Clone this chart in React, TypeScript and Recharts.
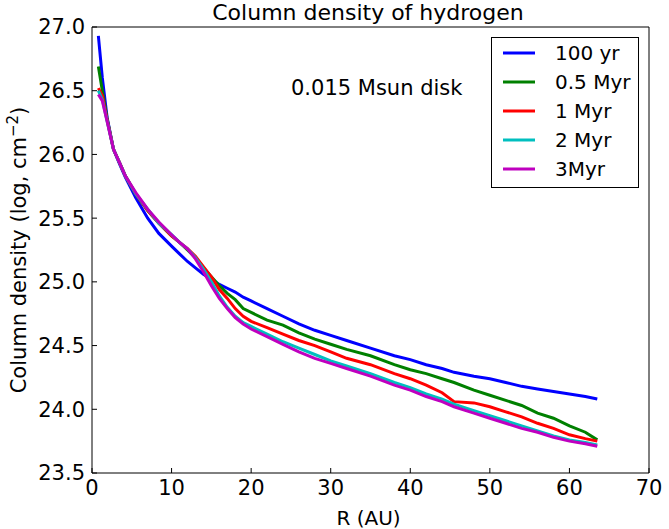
import React from 'react';
import { LineChart, Line, XAxis, YAxis, Legend } from 'recharts';

const radii = [0.8, 1.3, 1.9, 2.7, 3.5, 4.2, 5.5, 7, 8.4, 10, 11, 12, 13, 14, 15, 16, 17, 18, 19, 20, 22, 24, 26, 28, 30, 32, 35, 38, 40, 42, 44, 45.5, 48, 50, 52, 54, 56, 58, 60, 62, 63.5];

const yr100 = [26.93, 26.60, 26.29, 26.04, 25.92, 25.82, 25.66, 25.50, 25.38, 25.28, 25.22, 25.16, 25.11, 25.06, 25.02, 24.98, 24.95, 24.92, 24.88, 24.85, 24.79, 24.73, 24.67, 24.62, 24.58, 24.54, 24.48, 24.42, 24.39, 24.35, 24.32, 24.29, 24.26, 24.24, 24.21, 24.18, 24.16, 24.14, 24.12, 24.10, 24.08];
const myr05 = [26.69, 26.50, 26.28, 26.04, 25.93, 25.83, 25.69, 25.56, 25.46, 25.36, 25.31, 25.25, 25.19, 25.11, 25.04, 24.97, 24.91, 24.86, 24.79, 24.76, 24.70, 24.66, 24.60, 24.55, 24.51, 24.47, 24.42, 24.35, 24.31, 24.28, 24.24, 24.21, 24.15, 24.11, 24.07, 24.03, 23.97, 23.93, 23.87, 23.82, 23.76];
const myr1 = [26.52, 26.46, 26.27, 26.04, 25.93, 25.83, 25.69, 25.56, 25.46, 25.36, 25.31, 25.26, 25.20, 25.12, 25.04, 24.94, 24.87, 24.79, 24.73, 24.69, 24.64, 24.59, 24.54, 24.50, 24.45, 24.40, 24.35, 24.28, 24.24, 24.19, 24.13, 24.06, 24.05, 24.02, 23.98, 23.94, 23.89, 23.85, 23.80, 23.77, 23.75];
const myr2 = [26.50, 26.43, 26.26, 26.04, 25.93, 25.83, 25.69, 25.57, 25.46, 25.37, 25.31, 25.26, 25.19, 25.10, 25.00, 24.89, 24.80, 24.73, 24.68, 24.65, 24.59, 24.53, 24.48, 24.43, 24.38, 24.34, 24.28, 24.21, 24.17, 24.12, 24.08, 24.04, 23.99, 23.95, 23.91, 23.87, 23.83, 23.79, 23.76, 23.74, 23.72];
const myr3 = [26.47, 26.42, 26.26, 26.04, 25.93, 25.83, 25.70, 25.57, 25.47, 25.37, 25.31, 25.26, 25.18, 25.08, 24.97, 24.87, 24.79, 24.72, 24.67, 24.63, 24.57, 24.51, 24.45, 24.40, 24.36, 24.32, 24.26, 24.19, 24.15, 24.10, 24.06, 24.02, 23.97, 23.93, 23.89, 23.85, 23.82, 23.78, 23.75, 23.73, 23.71];

const seriesNames = ['100 yr', '0.5 Myr', '1 Myr', '2 Myr', '3Myr'];
const seriesColors = ['#0000ff', '#008000', '#ff0000', '#00bfbf', '#bf00bf'];
const seriesValues = [yr100, myr05, myr1, myr2, myr3];

const xTicks = [0, 10, 20, 30, 40, 50, 60, 70];
const yTicks = [23.5, 24.0, 24.5, 25.0, 25.5, 26.0, 26.5, 27.0];

const data = radii.map((r, i) => {
  const row: Record<string, number> = { r };
  seriesValues.forEach((vals, k) => {
    row['s' + k] = vals[i];
  });
  return row;
});

const FONT = 'DejaVu Sans, sans-serif';

const tickStyle = { fill: '#000', fontSize: 21, fontFamily: FONT };

const LegendBox = (props: any) => {
  const payload = [...(props.payload || [])].sort(
    (a: any, b: any) => seriesNames.indexOf(a.value) - seriesNames.indexOf(b.value)
  );
  return (
    <svg width={148} height={151} style={{ display: 'block' }}>
      <rect x={0.5} y={0.5} width={147} height={150} fill="#fff" stroke="#000" strokeWidth={1} />
      {payload.map((p: any, i: number) => (
        <g key={i}>
          <line x1={12} x2={44} y1={16 + 29 * i} y2={16 + 29 * i} stroke={p.color} strokeWidth={3} />
          <text x={64} y={16 + 29 * i + 7} fontSize={20} fontFamily={FONT} fill="#000">
            {p.value}
          </text>
        </g>
      ))}
    </svg>
  );
};

const XLabel = (props: any) => {
  const vb = props.viewBox || { x: 0, y: 0, width: 0, height: 0 };
  return (
    <text x={vb.x + vb.width / 2 - 2} y={vb.y + 51.5} textAnchor="middle" fontSize={20} fontFamily={FONT} fill="#000">
      R (AU)
    </text>
  );
};

const YLabel = (props: any) => {
  const vb = props.viewBox || { x: 0, y: 0, width: 0, height: 0 };
  const x = vb.x + 26;
  const y = vb.y + vb.height / 2;
  return (
    <text x={x} y={y} textAnchor="middle" fontSize={21} fontFamily={FONT} fill="#000" transform={`rotate(-90 ${x} ${y})`}>
      <tspan>Column density (log, cm</tspan>
      <tspan dy={-8} fontSize={15}>−2</tspan>
      <tspan dy={8}>)</tspan>
    </text>
  );
};

export default function App() {
  return (
    <div style={{ position: 'absolute', left: 0, top: 0, width: 669, height: 529, background: '#fff' }}>
      <LineChart width={669} height={529} data={data} margin={{ top: 26, right: 19, bottom: 0, left: 0 }}>
        <XAxis
          dataKey="r"
          type="number"
          domain={[0, 70]}
          ticks={xTicks}
          interval={0}
          allowDataOverflow
          height={56}
          tickSize={-5}
          tickMargin={12}
          axisLine={{ stroke: '#000' }}
          tickLine={{ stroke: '#000' }}
          tick={tickStyle}
          label={<XLabel />}
        />
        <XAxis
          xAxisId="top"
          orientation="top"
          type="number"
          dataKey="r"
          domain={[0, 70]}
          ticks={xTicks}
          interval={0}
          allowDataOverflow
          height={1}
          tickSize={-5}
          axisLine={{ stroke: '#000' }}
          tickLine={{ stroke: '#000' }}
          tick={false}
        />
        <YAxis
          type="number"
          domain={[23.5, 27]}
          ticks={yTicks}
          interval={0}
          allowDataOverflow
          width={92}
          tickSize={-5}
          tickMargin={12}
          axisLine={{ stroke: '#000' }}
          tickLine={{ stroke: '#000' }}
          tick={tickStyle}
          tickFormatter={(v: number) => v.toFixed(1)}
          label={<YLabel />}
        />
        <YAxis
          yAxisId="right"
          orientation="right"
          type="number"
          domain={[23.5, 27]}
          ticks={yTicks}
          interval={0}
          allowDataOverflow
          width={1}
          tickSize={-5}
          axisLine={{ stroke: '#000' }}
          tickLine={{ stroke: '#000' }}
          tick={false}
        />
        {seriesNames.map((name, k) => (
          <Line
            key={name}
            type="linear"
            dataKey={'s' + k}
            name={name}
            stroke={seriesColors[k]}
            strokeWidth={3}
            dot={false}
            activeDot={false}
            isAnimationActive={false}
          />
        ))}
        <Legend
          layout="vertical"
          align="center"
          verticalAlign="middle"
          content={<LegendBox />}
          wrapperStyle={{ left: 491, top: 37, width: 148, height: 151 }}
        />
      </LineChart>
      <div
        style={{
          position: 'absolute',
          left: 0,
          width: 736,
          top: 2,
          textAlign: 'center',
          fontFamily: FONT,
          fontSize: 22,
          lineHeight: '22px',
          color: '#000',
          whiteSpace: 'nowrap',
        }}
      >
        Column density of hydrogen
      </div>
      <div
        style={{
          position: 'absolute',
          left: 291,
          top: 78,
          fontFamily: FONT,
          fontSize: 21,
          lineHeight: '21px',
          color: '#000',
          whiteSpace: 'nowrap',
        }}
      >
        0.015 Msun disk
      </div>
    </div>
  );
}
